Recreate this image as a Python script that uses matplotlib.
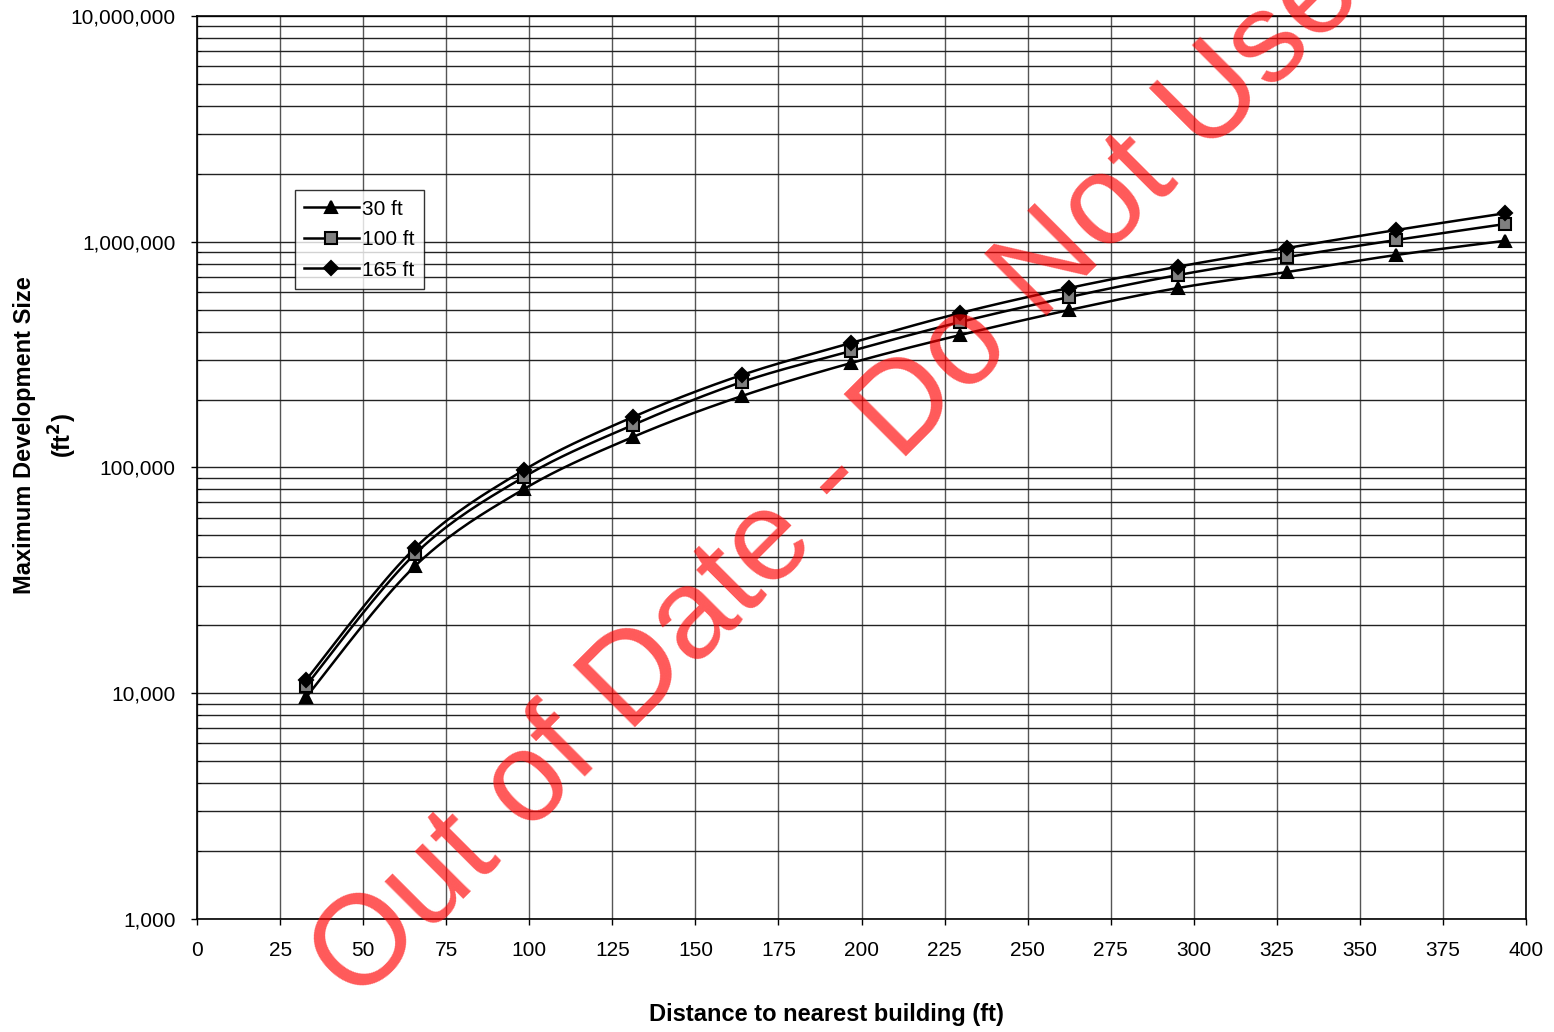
import numpy as np
import matplotlib
matplotlib.use("Agg")
import matplotlib.pyplot as plt
from matplotlib.ticker import FuncFormatter, LogLocator, MultipleLocator

plt.rcParams['font.family'] = ['Liberation Sans', 'DejaVu Sans']

# distance to nearest building (ft), 10 m steps
distance = [32.8, 65.6, 98.4, 131.2, 164.0, 196.9, 229.7, 262.5, 295.3, 328.1, 360.9, 393.7]

# maximum development size (ft^2) per series
size_30ft = [9600, 36600, 80300, 136500, 207400, 290400, 386300, 498500, 624000, 734500, 873600, 1010000]
size_100ft = [10800, 41400, 90800, 154300, 239200, 328200, 441000, 569000, 712300, 855800, 1018000, 1198000]
size_165ft = [11450, 44000, 97500, 167400, 256900, 356000, 483500, 624000, 775800, 938300, 1127000, 1337000]

labels = ['30 ft', '100 ft', '165 ft']
markers = ['^', 's', 'D']
marker_faces = ['black', '#808080', 'black']
marker_sizes = [9, 8, 7.5]


def smooth(xs, ys, n=20):
    # Excel-like smoothed line: Catmull-Rom through the points, in (x, log y)
    p = np.column_stack([xs, np.log10(ys)])
    p = np.vstack([p[0], p, p[-1]])
    out = []
    t = np.linspace(0, 1, n, endpoint=False)[:, None]
    for i in range(1, len(p) - 2):
        p0, p1, p2, p3 = p[i - 1], p[i], p[i + 1], p[i + 2]
        c1 = p1 + (p2 - p0) / 6
        c2 = p2 - (p3 - p1) / 6
        seg = ((1 - t) ** 3) * p1 + 3 * ((1 - t) ** 2) * t * c1 + 3 * (1 - t) * t ** 2 * c2 + t ** 3 * p2
        out.append(seg)
    out.append(p[-2][None, :])
    out = np.vstack(out)
    return out[:, 0], 10 ** out[:, 1]


fig = plt.figure(figsize=(15.54, 10.32), dpi=100)
ax = fig.add_axes([0.1268, 0.1095, 0.8552, 0.875])

for ys, lab, m, fc, ms in zip([size_30ft, size_100ft, size_165ft], labels, markers, marker_faces, marker_sizes):
    sx, sy = smooth(distance, ys)
    ax.plot(sx, sy, color='black', lw=1.8, zorder=3)
    ax.plot(distance, ys, linestyle='none', marker=m, markersize=ms,
            markerfacecolor=fc, markeredgecolor='black', markeredgewidth=1.5, zorder=4)
    # proxy for the legend entry
    ax.plot([], [], color='black', lw=1.8, marker=m, markersize=ms,
            markerfacecolor=fc, markeredgecolor='black', markeredgewidth=1.5, label=lab)

ax.set_yscale('log')
ax.set_xlim(0, 400)
ax.set_ylim(1000, 10000000)
ax.xaxis.set_major_locator(MultipleLocator(25))
ax.yaxis.set_major_locator(LogLocator(base=10))
ax.yaxis.set_minor_locator(LogLocator(base=10, subs=np.arange(2, 10)))
ax.yaxis.set_major_formatter(FuncFormatter(lambda v, pos: f"{v:,.0f}"))
ax.yaxis.set_minor_formatter(FuncFormatter(lambda v, pos: ""))

ax.grid(True, which='major', axis='x', color='#555555', lw=1.0)
ax.grid(True, which='both', axis='y', color='#222222', lw=1.0)
ax.set_axisbelow(True)

ax.tick_params(axis='both', which='major', direction='out', length=4.5, width=1,
               pad=11, labelsize=15, colors='black')
ax.tick_params(axis='y', which='minor', direction='in', length=3)
for s in ax.spines.values():
    s.set_color('black')
    s.set_linewidth(1.2)

leg = ax.legend(loc='upper left', bbox_to_anchor=(0.0737, 0.807), borderaxespad=0,
                fontsize=15, frameon=True, fancybox=False, handlelength=2.6,
                handletextpad=0.15, borderpad=0.45, labelspacing=0.55)
leg.get_frame().set_edgecolor('black')
leg.get_frame().set_linewidth(1.0)
leg.set_zorder(5)

fig.text(0.532, 0.0174, 'Distance to nearest building (ft)', ha='center', va='center',
         fontsize=17, fontweight='bold')
fig.text(0.0298, 0.578, 'Maximum Development Size\n(ft$^\\mathbf{2}$)', ha='center', va='center',
         rotation=90, fontsize=17, fontweight='bold', multialignment='center', linespacing=1.45)

# watermark
fig.text(357 / 1554, 1 - 1005 / 1032, 'Out of Date - Do Not Use', color='red', alpha=0.65,
         fontsize=92, rotation=45, rotation_mode='anchor', ha='left', va='baseline', zorder=10)

fig.savefig('out.png', dpi=100)
